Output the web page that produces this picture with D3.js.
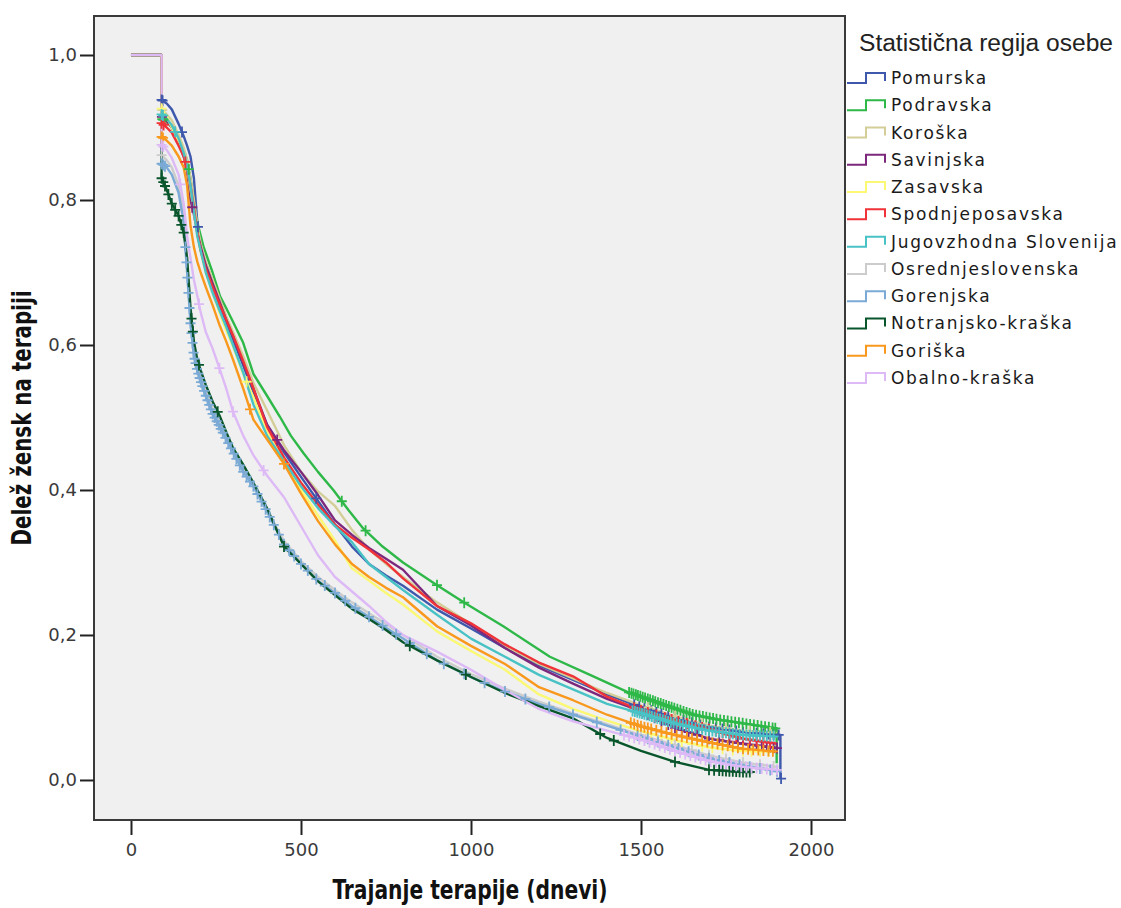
<!DOCTYPE html>
<html>
<head>
<meta charset="utf-8">
<script src="https://cdn.jsdelivr.net/npm/d3@7"></script>
<style>
  body { margin: 0; background: #ffffff; }
  svg { display: block; }
</style>
</head>
<body>
<svg id="chart" width="1121" height="908"></svg>
<script>
// Kaplan–Meier curves: share of women still on therapy by statistical region.
const regions = ["Pomurska", "Podravska", "Koroška", "Savinjska", "Zasavska", "Spodnjeposavska",
  "Jugovzhodna Slovenija", "Osrednjeslovenska", "Gorenjska", "Notranjsko-kraška", "Goriška", "Obalno-kraška"];
const colors = ["#3e58ac", "#2eb848", "#d3ce97", "#7c287d", "#fbf873", "#ef3338",
  "#48c2c5", "#cccccc", "#7aaad5", "#0a562c", "#f8981d", "#ddb9f6"];

// [day, survival] pairs for each region
const pomurska = [[0,1],[90,1],[90,0.938],[105,0.933],[120,0.925],[140,0.905],[155,0.888],[165,0.875],[175,0.86],[185,0.83],[195,0.77],[205,0.735],[220,0.705],[240,0.68],[260,0.655],[280,0.632],[300,0.608],[330,0.572],[360,0.535],[400,0.49],[450,0.452],[500,0.418],[550,0.385],[600,0.352],[650,0.322],[700,0.298],[750,0.282],[800,0.268],[900,0.235],[1000,0.209],[1100,0.182],[1200,0.158],[1300,0.138],[1400,0.118],[1500,0.1],[1600,0.085],[1700,0.073],[1800,0.066],[1910,0.062],[1910,0.002]];
const podravska = [[0,1],[90,1],[90,0.912],[105,0.908],[120,0.9],[140,0.885],[155,0.87],[165,0.855],[175,0.83],[190,0.78],[200,0.76],[213,0.736],[240,0.7],[262,0.667],[281,0.65],[300,0.632],[330,0.603],[360,0.56],[400,0.53],[438,0.501],[470,0.475],[507,0.451],[550,0.425],[595,0.4],[640,0.372],[683,0.347],[740,0.322],[800,0.3],[899,0.269],[982,0.244],[1095,0.212],[1232,0.17],[1350,0.145],[1458,0.122],[1560,0.105],[1654,0.09],[1730,0.083],[1801,0.078],[1899,0.071],[1899,0.023]];
const koroska = [[0,1],[90,1],[90,0.925],[105,0.918],[120,0.91],[140,0.89],[155,0.872],[165,0.855],[175,0.83],[185,0.8],[195,0.765],[205,0.74],[220,0.715],[240,0.69],[260,0.665],[280,0.64],[300,0.618],[330,0.585],[360,0.548],[400,0.51],[450,0.462],[500,0.425],[550,0.398],[600,0.378],[650,0.345],[700,0.318],[750,0.298],[800,0.28],[900,0.245],[1000,0.215],[1100,0.185],[1200,0.16],[1300,0.14],[1400,0.12],[1500,0.103],[1600,0.088],[1700,0.075],[1800,0.068],[1900,0.065]];
const savinjska = [[0,1],[90,1],[90,0.915],[105,0.91],[120,0.9],[140,0.88],[155,0.86],[165,0.84],[175,0.8],[185,0.78],[195,0.755],[205,0.735],[220,0.71],[240,0.685],[260,0.66],[280,0.635],[300,0.612],[330,0.575],[360,0.54],[400,0.49],[450,0.455],[500,0.425],[550,0.393],[600,0.358],[650,0.338],[700,0.32],[750,0.305],[800,0.29],[900,0.24],[1000,0.213],[1100,0.182],[1200,0.155],[1300,0.133],[1400,0.112],[1500,0.095],[1600,0.072],[1700,0.057],[1800,0.05],[1900,0.044]];
const zasavska = [[0,1],[90,1],[90,0.926],[105,0.915],[120,0.9],[140,0.88],[155,0.862],[165,0.845],[175,0.815],[185,0.785],[195,0.752],[205,0.728],[220,0.7],[240,0.672],[260,0.645],[280,0.62],[300,0.598],[330,0.56],[360,0.528],[400,0.48],[450,0.44],[500,0.4],[550,0.365],[600,0.33],[650,0.292],[700,0.275],[750,0.258],[800,0.242],[900,0.205],[1000,0.178],[1100,0.152],[1200,0.118],[1300,0.098],[1400,0.082],[1500,0.067],[1600,0.055],[1700,0.045],[1800,0.04],[1900,0.039]];
const spodnjeposavska = [[0,1],[90,1],[90,0.906],[105,0.9],[120,0.893],[140,0.875],[155,0.86],[165,0.845],[175,0.82],[185,0.79],[195,0.755],[205,0.73],[220,0.705],[240,0.68],[260,0.657],[280,0.635],[300,0.613],[330,0.578],[360,0.54],[400,0.487],[450,0.445],[500,0.41],[550,0.38],[600,0.352],[650,0.334],[700,0.318],[750,0.3],[800,0.278],[900,0.24],[1000,0.216],[1100,0.187],[1200,0.162],[1300,0.143],[1400,0.115],[1500,0.096],[1600,0.082],[1700,0.07],[1800,0.057],[1900,0.05]];
const jugovzhodna = [[0,1],[90,1],[90,0.918],[105,0.912],[120,0.903],[140,0.885],[155,0.865],[165,0.848],[175,0.82],[185,0.785],[195,0.75],[205,0.73],[220,0.7],[240,0.672],[260,0.648],[280,0.625],[300,0.6],[330,0.562],[360,0.518],[400,0.475],[450,0.44],[500,0.405],[550,0.375],[600,0.35],[650,0.328],[700,0.298],[750,0.28],[800,0.262],[900,0.228],[1000,0.195],[1100,0.17],[1200,0.145],[1300,0.125],[1400,0.105],[1500,0.092],[1600,0.078],[1700,0.068],[1800,0.062],[1900,0.06]];
const osrednjeslovenska = [[0,1],[90,1],[90,0.862],[105,0.855],[120,0.845],[140,0.82],[155,0.78],[165,0.72],[175,0.655],[185,0.6],[195,0.575],[205,0.56],[220,0.538],[240,0.512],[260,0.492],[280,0.474],[300,0.456],[330,0.43],[360,0.408],[400,0.372],[450,0.33],[500,0.302],[550,0.28],[600,0.262],[650,0.245],[700,0.23],[750,0.215],[800,0.2],[900,0.17],[1000,0.146],[1100,0.126],[1200,0.108],[1300,0.092],[1400,0.077],[1500,0.062],[1600,0.048],[1700,0.034],[1800,0.024],[1900,0.018]];
const gorenjska = [[0,1],[90,1],[90,0.85],[105,0.845],[120,0.835],[140,0.81],[155,0.77],[165,0.7],[175,0.63],[185,0.585],[195,0.565],[205,0.55],[220,0.53],[240,0.505],[260,0.488],[280,0.47],[300,0.452],[330,0.425],[360,0.405],[400,0.37],[450,0.325],[500,0.298],[550,0.275],[600,0.258],[650,0.24],[700,0.225],[750,0.21],[800,0.195],[900,0.165],[1000,0.142],[1100,0.122],[1200,0.105],[1300,0.09],[1400,0.075],[1500,0.06],[1600,0.045],[1700,0.03],[1800,0.02],[1900,0.012]];
const notranjskoKraska = [[0,1],[90,1],[90,0.83],[105,0.814],[120,0.795],[140,0.778],[155,0.755],[165,0.72],[175,0.65],[185,0.605],[195,0.58],[205,0.565],[220,0.545],[240,0.522],[260,0.503],[280,0.48],[300,0.458],[330,0.435],[360,0.41],[400,0.375],[450,0.322],[500,0.298],[550,0.274],[600,0.255],[650,0.236],[700,0.222],[750,0.207],[800,0.19],[900,0.165],[1000,0.142],[1100,0.12],[1200,0.102],[1300,0.085],[1400,0.058],[1500,0.04],[1600,0.025],[1700,0.014],[1800,0.011],[1830,0.011]];
const goriska = [[0,1],[90,1],[90,0.887],[105,0.882],[120,0.875],[140,0.86],[155,0.845],[165,0.82],[175,0.765],[185,0.735],[195,0.715],[205,0.7],[220,0.68],[240,0.655],[260,0.628],[280,0.605],[300,0.58],[330,0.54],[360,0.497],[400,0.47],[450,0.436],[500,0.395],[550,0.357],[600,0.325],[650,0.298],[700,0.28],[750,0.265],[800,0.252],[900,0.212],[1000,0.185],[1100,0.16],[1200,0.128],[1300,0.11],[1400,0.09],[1500,0.074],[1600,0.062],[1700,0.052],[1800,0.043],[1900,0.039]];
const obalnoKraska = [[0,1],[90,1],[90,0.876],[105,0.869],[120,0.858],[140,0.835],[155,0.795],[165,0.75],[175,0.72],[185,0.69],[195,0.668],[205,0.645],[220,0.618],[240,0.595],[260,0.568],[280,0.54],[300,0.508],[330,0.475],[360,0.448],[400,0.42],[450,0.39],[500,0.35],[550,0.31],[600,0.28],[650,0.26],[700,0.24],[750,0.218],[800,0.2],[900,0.177],[1000,0.152],[1100,0.124],[1200,0.098],[1300,0.081],[1400,0.068],[1500,0.056],[1600,0.04],[1700,0.026],[1800,0.018],[1900,0.014]];

// censored observations (days) for each region
const pomurskaCensored = [90, 93, 150, 197, 545, 1480, 1495, 1510, 1530, 1545, 1560, 1580, 1600, 1625, 1650, 1675, 1700, 1720, 1740, 1760, 1780, 1800, 1820, 1840, 1860, 1875, 1890, 1905, 1912];
const podravskaCensored = [92, 95, 170, 620, 690, 900, 980, 1465, 1472, 1478, 1485, 1491, 1498, 1505, 1512, 1520, 1527, 1535, 1542, 1550, 1558, 1566, 1574, 1582, 1590, 1598, 1607, 1616, 1625, 1634, 1643, 1652, 1662, 1672, 1682, 1692, 1702, 1712, 1722, 1733, 1744, 1755, 1766, 1777, 1788, 1799, 1810, 1821, 1832, 1843, 1854, 1865, 1876, 1887, 1895];
const koroskaCensored = [92, 1520, 1600, 1680, 1750, 1820, 1880];
const savinjskaCensored = [91, 180, 430, 1490, 1505, 1520, 1540, 1560, 1580, 1600, 1620, 1640, 1665, 1700, 1730, 1760, 1785, 1800, 1820, 1840, 1855, 1870, 1880, 1890, 1900];
const zasavskaCensored = [90, 340, 1500, 1530, 1560, 1590, 1620, 1650, 1680, 1710, 1740, 1770, 1800, 1825, 1850, 1875];
const spodnjeposavskaCensored = [90, 96, 160, 1480, 1500, 1520, 1545, 1570, 1590, 1610, 1635, 1660, 1680, 1700, 1720, 1740, 1760, 1780, 1800, 1820, 1840, 1860, 1880];
const jugovzhodnaCensored = [90, 94, 130, 1475, 1482, 1489, 1496, 1503, 1510, 1517, 1525, 1532, 1540, 1548, 1556, 1564, 1572, 1580, 1588, 1596, 1605, 1614, 1623, 1632, 1641, 1650, 1660, 1670, 1680, 1690, 1700, 1710, 1720, 1730, 1740, 1750, 1760, 1770, 1780, 1790, 1800, 1810, 1820, 1830, 1840, 1850, 1860, 1870, 1880, 1890];
const osrednjeslovenskaCensored = [90, 1500, 1550, 1600, 1650, 1700, 1750, 1800, 1850, 1890];
const gorenjskaCensored = [90, 95, 100, 160, 163, 166, 169, 172, 175, 178, 181, 184, 187, 190, 194, 198, 202, 206, 210, 215, 220, 225, 230, 235, 240, 246, 252, 258, 264, 270, 278, 286, 294, 302, 310, 320, 330, 340, 350, 360, 372, 384, 396, 408, 420, 435, 450, 465, 480, 500, 520, 545, 570, 600, 630, 660, 700, 740, 780, 820, 870, 920, 980, 1040, 1100, 1160, 1230, 1300, 1370, 1440, 1490, 1520, 1550, 1580, 1610, 1640, 1670, 1700, 1730, 1760, 1790, 1820, 1850, 1880, 1900];
const notranjskoKraskaCensored = [90, 95, 100, 110, 120, 130, 140, 148, 155, 178, 182, 200, 255, 450, 820, 985, 1380, 1420, 1600, 1700, 1715, 1730, 1740, 1750, 1760, 1770, 1780, 1790, 1800, 1810, 1820];
const goriskaCensored = [90, 94, 350, 450, 1470, 1480, 1490, 1500, 1510, 1520, 1530, 1545, 1560, 1575, 1590, 1605, 1620, 1635, 1650, 1665, 1680, 1695, 1710, 1725, 1740, 1755, 1770, 1785, 1800, 1815, 1830, 1845, 1860, 1875, 1888];
const obalnoKraskaCensored = [90, 95, 145, 200, 260, 300, 390, 1450, 1465, 1480, 1495, 1510, 1525, 1540, 1555, 1570, 1585, 1600, 1615, 1630, 1645, 1660, 1675, 1690, 1705, 1720, 1735, 1750, 1765, 1780, 1795, 1810, 1825, 1840, 1855, 1870, 1885, 1900];

const yTicks = [0, 0.2, 0.4, 0.6, 0.8, 1.0];
const xTicks = [0, 500, 1000, 1500, 2000];

const curves = [pomurska, podravska, koroska, savinjska, zasavska, spodnjeposavska,
  jugovzhodna, osrednjeslovenska, gorenjska, notranjskoKraska, goriska, obalnoKraska];
const censoredSets = [pomurskaCensored, podravskaCensored, koroskaCensored, savinjskaCensored,
  zasavskaCensored, spodnjeposavskaCensored, jugovzhodnaCensored, osrednjeslovenskaCensored,
  gorenjskaCensored, notranjskoKraskaCensored, goriskaCensored, obalnoKraskaCensored];

const svg = d3.select("#chart");
const plot = { left: 94, top: 16, right: 845, bottom: 820 };

const x = d3.scaleLinear().domain([-108.8, 2100]).range([plot.left, plot.right]);
const y = d3.scaleLinear().domain([-0.0552, 1.0538]).range([plot.bottom, plot.top]);

// plot background and frame
svg.append("rect")
  .attr("x", plot.left).attr("y", plot.top)
  .attr("width", plot.right - plot.left).attr("height", plot.bottom - plot.top)
  .attr("fill", "#f0f0f0").attr("stroke", "#3a3a3a").attr("stroke-width", 2);

// y axis
const yAxis = d3.axisLeft(y).tickValues(yTicks).tickSize(14).tickPadding(3)
  .tickFormat(d => d3.format(".1f")(d).replace(".", ","));
const gy = svg.append("g").attr("transform", `translate(${plot.left},0)`).call(yAxis);
gy.select(".domain").remove();
gy.selectAll(".tick line").attr("stroke", "#222").attr("stroke-width", 2);
gy.selectAll(".tick text").attr("font-family", "DejaVu Sans, Verdana, sans-serif")
  .attr("font-size", 18).attr("fill", "#3a3a3a");

// x axis
const xAxis = d3.axisBottom(x).tickValues(xTicks).tickSize(14).tickPadding(8)
  .tickFormat(d3.format("d"));
const gx = svg.append("g").attr("transform", `translate(0,${plot.bottom + 1})`).call(xAxis);
gx.select(".domain").remove();
gx.selectAll(".tick line").attr("stroke", "#222").attr("stroke-width", 2);
gx.selectAll(".tick text").attr("font-family", "DejaVu Sans, Verdana, sans-serif")
  .attr("font-size", 18).attr("fill", "#3a3a3a");

// axis titles
svg.append("text")
  .attr("x", 470).attr("y", 899)
  .attr("text-anchor", "middle")
  .attr("font-family", "Liberation Sans Narrow, DejaVu Sans Condensed, Arial Narrow, sans-serif")
  .attr("font-weight", "bold").attr("font-size", 27).attr("fill", "#111")
  .attr("textLength", 275).attr("lengthAdjust", "spacingAndGlyphs")
  .text("Trajanje terapije (dnevi)");

svg.append("text")
  .attr("transform", "translate(31,418) rotate(-90)")
  .attr("text-anchor", "middle")
  .attr("font-family", "Liberation Sans Narrow, DejaVu Sans Condensed, Arial Narrow, sans-serif")
  .attr("font-weight", "bold").attr("font-size", 27).attr("fill", "#111")
  .attr("textLength", 255).attr("lengthAdjust", "spacingAndGlyphs")
  .text("Delež žensk na terapiji");

// survival curves
const line = d3.line().x(d => x(d[0])).y(d => y(d[1]));
const curveLayer = svg.append("g");
curves.forEach((pts, i) => {
  curveLayer.append("path")
    .datum(pts)
    .attr("d", line)
    .attr("fill", "none")
    .attr("stroke", colors[i])
    .attr("stroke-width", 2.4)
    .attr("stroke-linejoin", "round");
});

// survival value on the drawn curve at a given day
function valueAt(pts, day) {
  for (let k = pts.length - 1; k > 0; k--) {
    const a = pts[k - 1], b = pts[k];
    if (day >= a[0] && day <= b[0]) {
      if (b[0] === a[0]) return b[1];
      return a[1] + (b[1] - a[1]) * (day - a[0]) / (b[0] - a[0]);
    }
  }
  return pts[pts.length - 1][1];
}

// censoring marks
const markLayer = svg.append("g");
censoredSets.forEach((days, i) => {
  const pts = curves[i];
  markLayer.selectAll(null)
    .data(days)
    .join("path")
    .attr("transform", d => `translate(${x(d)},${y(valueAt(pts, d))})`)
    .attr("d", "M-5,0H5M0,-5.5V5.5")
    .attr("stroke", colors[i])
    .attr("stroke-width", 1.8)
    .attr("fill", "none");
});

// legend
const legend = svg.append("g");
legend.append("text")
  .attr("x", 859).attr("y", 51)
  .attr("font-family", "Liberation Sans, Arial, sans-serif")
  .attr("font-size", 23).attr("fill", "#222")
  .attr("textLength", 254).attr("lengthAdjust", "spacingAndGlyphs")
  .text("Statistična regija osebe");

const rowY = d3.scalePoint().domain(regions).range([78, 378]);
regions.forEach((name, i) => {
  const cy = rowY(name);
  legend.append("path")
    .attr("d", `M847,${cy + 5}H866V${cy - 5}H885V${cy + 3}`)
    .attr("fill", "none")
    .attr("stroke", colors[i])
    .attr("stroke-width", 2);
  legend.append("text")
    .attr("x", 891).attr("y", cy + 6)
    .attr("font-family", "DejaVu Sans, Verdana, sans-serif")
    .attr("font-size", 17).attr("letter-spacing", 1.7).attr("fill", "#1a1a1a")
    .text(name);
});
</script>
</body>
</html>
